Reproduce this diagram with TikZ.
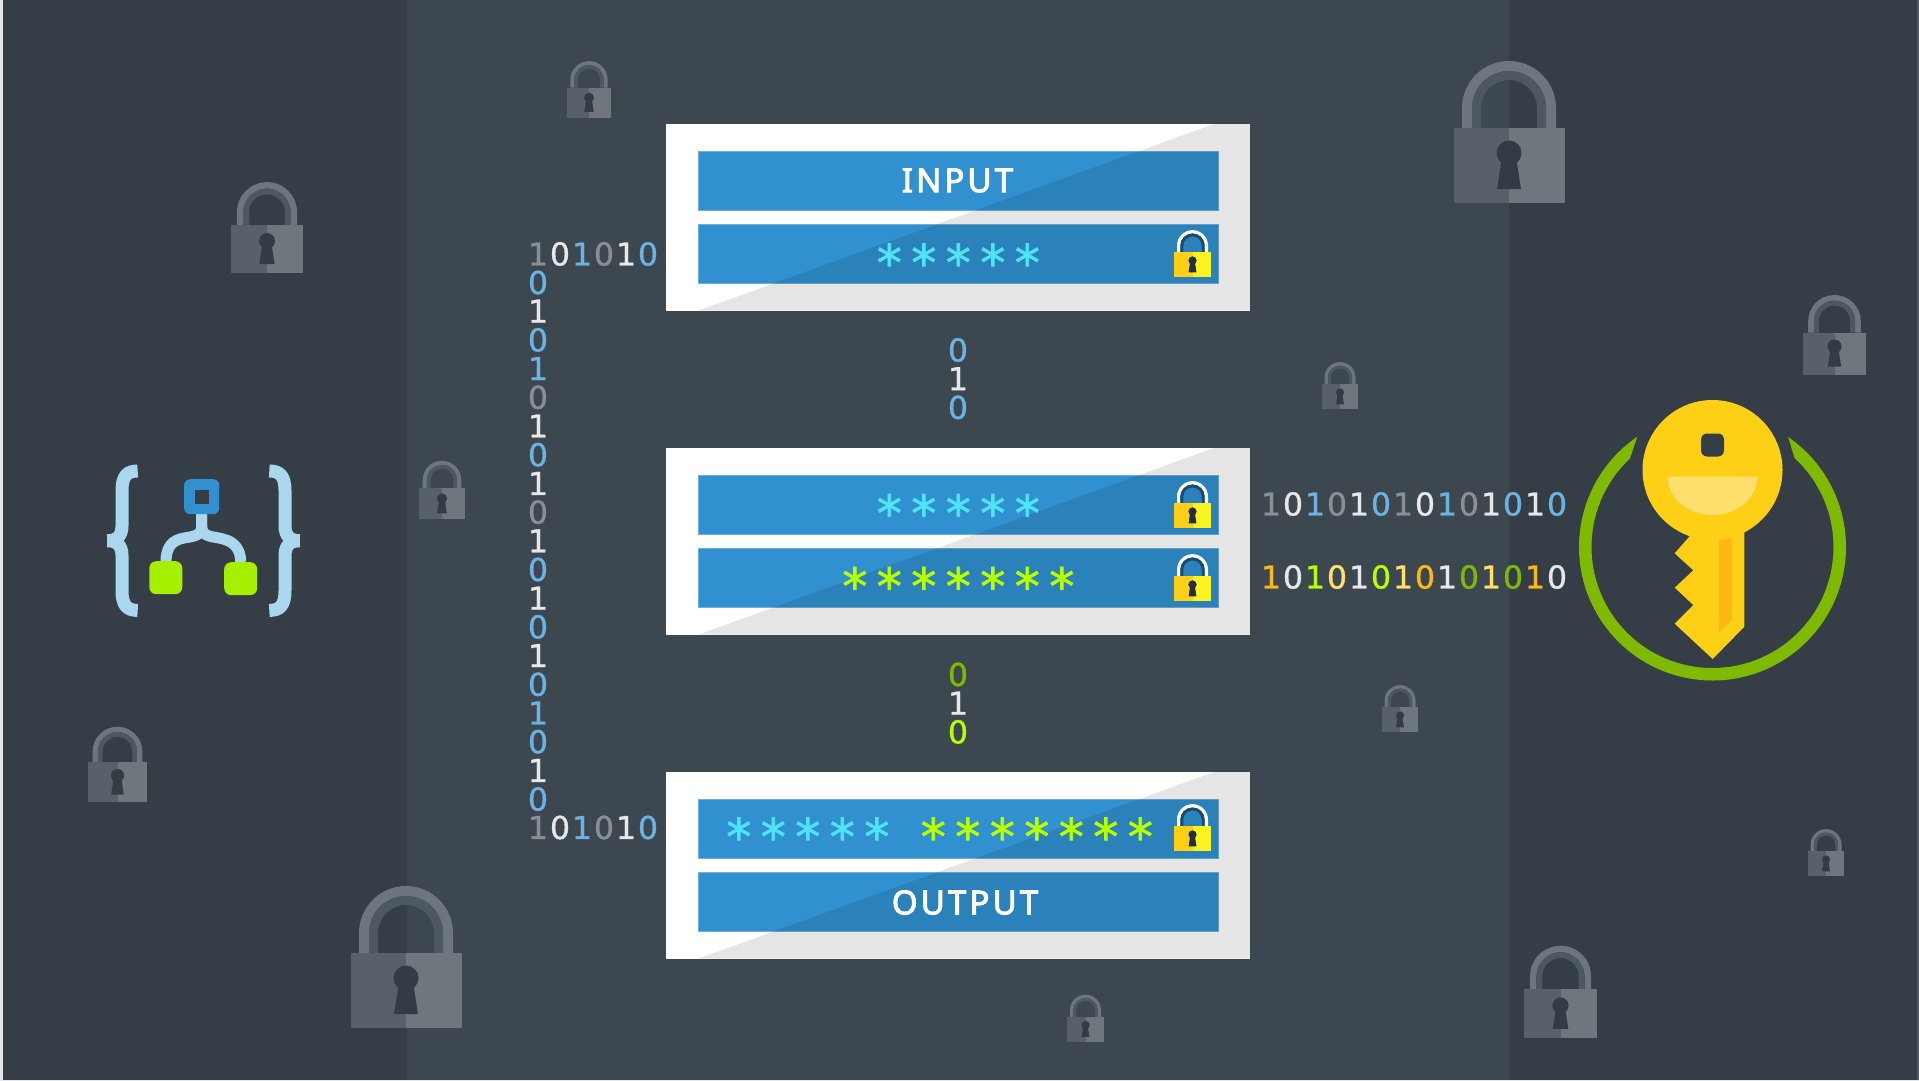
\documentclass[tikz,border=0pt]{standalone}
\usepackage{fontspec}
\usetikzlibrary{calc}
\setmainfont{DejaVu Sans}
\newfontfamily\bitfont[FakeBold=1]{DejaVu Sans}
\newfontfamily\titlefont[FakeBold=3,LetterSpace=9.5]{Noto Sans}
\newfontfamily\starfont[FakeBold=1.5,LetterSpace=19]{DejaVu Sans}
\definecolor{bgmid}{HTML}{3C4750}
\definecolor{bgside}{HTML}{353D47}
\definecolor{barblue}{HTML}{3090D0}
\definecolor{barline}{HTML}{6FAEDD}
\definecolor{pipeblue}{HTML}{AAD6EE}
\definecolor{leafgreen}{HTML}{A5EF00}
\definecolor{starcyan}{HTML}{4FE3F5}
\definecolor{starlime}{HTML}{B8FF00}
\definecolor{keygold}{HTML}{FDD015}
\definecolor{keypale}{HTML}{FFE06E}
\definecolor{keyband}{HTML}{FDB813}
\definecolor{ringgreen}{HTML}{7FBA00}
\definecolor{bitgrey}{HTML}{8A8F95}
\definecolor{bitwhite}{HTML}{E6E8EA}
\definecolor{bitblue}{HTML}{6DB3E2}
\definecolor{lockring}{HTML}{6E757E}
\definecolor{lockinner}{HTML}{4E5862}
\definecolor{lockleft}{HTML}{58616B}
\definecolor{lockright}{HTML}{70767E}
\definecolor{lockhole}{HTML}{333B45}
\definecolor{goldinner}{HTML}{1A4A70}
\definecolor{goldright}{HTML}{FBF31F}
\definecolor{goldhole}{HTML}{1F3044}
\newcommand{\lockshape}[5]{
	\fill[#1] (-47,-75) -- (-47,-95) arc (180:360:47) -- (47,-75) -- (37,-75) -- (37,-95) arc (360:180:37) -- (-37,-75) -- cycle;
	\fill[#2] (-37,-75) -- (-37,-95) arc (180:360:37) -- (37,-75) -- (28,-75) -- (28,-95) arc (360:180:28) -- (-28,-75) -- cycle;
	\fill[#3] (-55.5,-75) rectangle (0,0);
	\fill[#4] (0,-75) rectangle (55.5,0);
	\fill[#5] (0,-50) circle (12.5);
	\fill[#5] (-7,-46) -- (7,-46) -- (12,-14) -- (-12,-14) -- cycle;
}
\newcommand{\bitrow}[4]{
	\foreach \col [count=\i from 0] in {#4}
		\node[bit,text=\col] (#1\i) at (#2+\i*22,#3) {\ifodd\i\relax 0\else 1\fi};
}
\newcommand{\bitcol}[4]{
	\foreach \col [count=\i from 1] in {#4}
		\node[bit,text=\col] (#1\i) at (#2,#3+\i*28.7-28.7) {\ifodd\i\relax 0\else 1\fi};
}
\tikzset{
	greylock/.pic={\lockshape{lockring}{lockinner}{lockleft}{lockright}{lockhole}},
	goldlock/.pic={\lockshape{white}{goldinner}{keygold}{goldright}{goldhole}},
	curlybrace/.pic={
		\draw[pipe] (30.4,-69.7) .. controls (20,-69.7) and (14.7,-65) .. (14.7,-50) -- (14.7,-15) .. controls (14.7,-5) and (10,0) .. (0,0);
		\draw[pipe] (30.4,69.7) .. controls (20,69.7) and (14.7,65) .. (14.7,50) -- (14.7,15) .. controls (14.7,5) and (10,0) .. (0,0);
	},
	panel/.style={fill=white,minimum width=584pt,minimum height=187pt,inner sep=0pt,outer sep=0pt},
	barbox/.style={fill=barblue,draw=barline,line width=.4pt,minimum width=520pt,minimum height=59pt,inner sep=0pt,outer sep=0pt},
	pipe/.style={draw=pipeblue,line width=13pt},
	bit/.style={inner sep=0pt,font=\bitfont\fontsize{31.5}{31.5}\selectfont},
	barlabel/.style={inner sep=0pt,text=white,font=\titlefont\fontsize{33}{33}\selectfont},
	stars/.style={inner sep=0pt,anchor=base,text=#1,font=\starfont\fontsize{50}{50}\selectfont},
	leaf/.style={fill=leafgreen,rounded corners=7pt,minimum size=33pt,inner sep=0pt},
}
\begin{document}
\begin{tikzpicture}[x=1pt,y=-1pt]
	\useasboundingbox (0,0) rectangle (1919,1081);
	\fill[bgmid] (0,0) rectangle (1919,1081);
	\fill[bgside] (0,0) rectangle (407,1081);
	\fill[bgside] (1509,0) rectangle (1919,1081);
	\fill[bitwhite] (0,0) rectangle (3,1081);
	\fill[bitwhite] (0,1079.5) rectangle (1919,1081);
	\fill[lockinner] (1917,0) rectangle (1919,1079.5);

	\foreach \xx/\yy/\ss in {589/117.5/.397, 1509/203/1, 267/273/.64, 1834.5/374.5/.56, 1340/409/.33, 442/519/.41, 117.5/802/.53, 1400/732/.33, 1826/876/.33, 406/1028/1, 1560.5/1038/.65, 1085.5/1041.5/.33}
		\pic[scale=\ss] at (\xx,\yy) {greylock};

	\foreach \n/\yy in {A/217, B/541, C/865} {
		\node[panel] (panel\n) at (958,\yy) {};
		\node[barbox] (bar\n1) at (958,\yy-36.5) {};
		\node[barbox] (bar\n2) at (958,\yy+36.5) {};
		\fill[black,opacity=.1] ($(panel\n.south west)+(33,0)$) -- ($(panel\n.north east)+(-34.5,0)$) -- (panel\n.north east) -- (panel\n.south east) -- cycle;
	}

	\node[barlabel] (inputlabel) at (957.5,180.5) {INPUT};
	\node[barlabel] (outputlabel) at (965,902.5) {OUTPUT};

	\node[stars=starcyan] (starsA) at (958.3,280.5) {*****};
	\node[stars=starcyan] (starsB) at (958.3,531) {*****};
	\node[stars=starlime] (starsC) at (958.3,604) {*******};
	\node[stars=starcyan] (starsD) at (807.8,854.5) {*****};
	\node[stars=starlime] (starsE) at (1036.8,854.5) {*******};

	\foreach \yy in {277,528,601,851}
		\pic[scale=.33] at (1192.5,\yy) {goldlock};

	\bitrow{topbit}{538}{254}{bitgrey,bitwhite,bitblue,bitgrey,bitwhite,bitblue}
	\bitrow{lowbit}{538}{827.5}{bitgrey,bitwhite,bitblue,bitgrey,bitwhite,bitblue}
	\bitcol{sidebit}{538}{282.5}{bitblue,bitwhite,bitblue,bitblue,bitgrey,bitwhite,bitblue,bitwhite,bitgrey,bitwhite,bitblue,bitwhite,bitblue,bitwhite,bitblue,bitblue,bitblue,bitwhite,bitblue}
	\bitcol{midbit}{958}{350}{bitblue,bitwhite,bitblue}
	\bitcol{mixbit}{958}{674.5}{ringgreen,bitwhite,starlime}
	\bitrow{cipherbit}{1271}{504}{bitgrey,bitwhite,bitblue,bitgrey,bitwhite,bitblue,bitgrey,bitwhite,bitblue,bitgrey,bitwhite,bitblue,bitwhite,bitblue}
	\bitrow{keybit}{1271}{577}{keyband,bitwhite,starlime,keypale,bitwhite,starlime,keypale,keyband,bitwhite,ringgreen,keypale,ringgreen,keyband,bitwhite}

	\pic at (107.3,540.7) {curlybrace};
	\pic[xscale=-1] at (299.7,540.7) {curlybrace};
	\draw[pipe,line width=11pt] (201.7,514) -- (201.7,526) .. controls (201.7,538) and (190,536) .. (180,539) .. controls (170,542) and (166,550) .. (166,562);
	\draw[pipe,line width=11pt] (201.7,514) -- (201.7,526) .. controls (201.7,538) and (213,536) .. (223,539) .. controls (235,542) and (240.7,550) .. (240.7,562);
	\node[fill=barblue,rounded corners=6pt,minimum size=35pt,inner sep=0pt] (rootbox) at (201.7,496.7) {};
	\fill[bgside] (195,490) rectangle (209.3,504);
	\node[leaf] (leafL) at (165.8,577.7) {};
	\node[leaf] (leafR) at (240.7,578.7) {};

	\coordinate (ringc) at (1712.5,547);
	\fill[ringgreen] ($(ringc)+(235.7:133.5)$) arc (235.7:-55.5:133.5) -- ($(ringc)+(-47.3:121)$) arc (-47.3:226.9:121) -- cycle;
	\fill[keygold] (1712.5,470) circle (70);
	\fill[keygold] (1689.3,520) -- (1744.3,520) -- (1744.3,626.7) -- (1712.7,659) -- (1674.7,623.7) -- (1693.3,605) -- (1674.7,587.7) -- (1693.3,570.3) -- (1674.7,553.3) -- (1689.3,536.7) -- cycle;
	\fill[keyband] (1719,540.7) -- (1732,538) -- (1732,619.3) -- (1719,632.3) -- cycle;
	\fill[keypale] (1667.7,476.7) arc (180:0:44.8 and 38.3) -- cycle;
	\fill[bgside,rounded corners=6pt] (1701,433.5) rectangle (1724,456.5);
\end{tikzpicture}
\end{document}
